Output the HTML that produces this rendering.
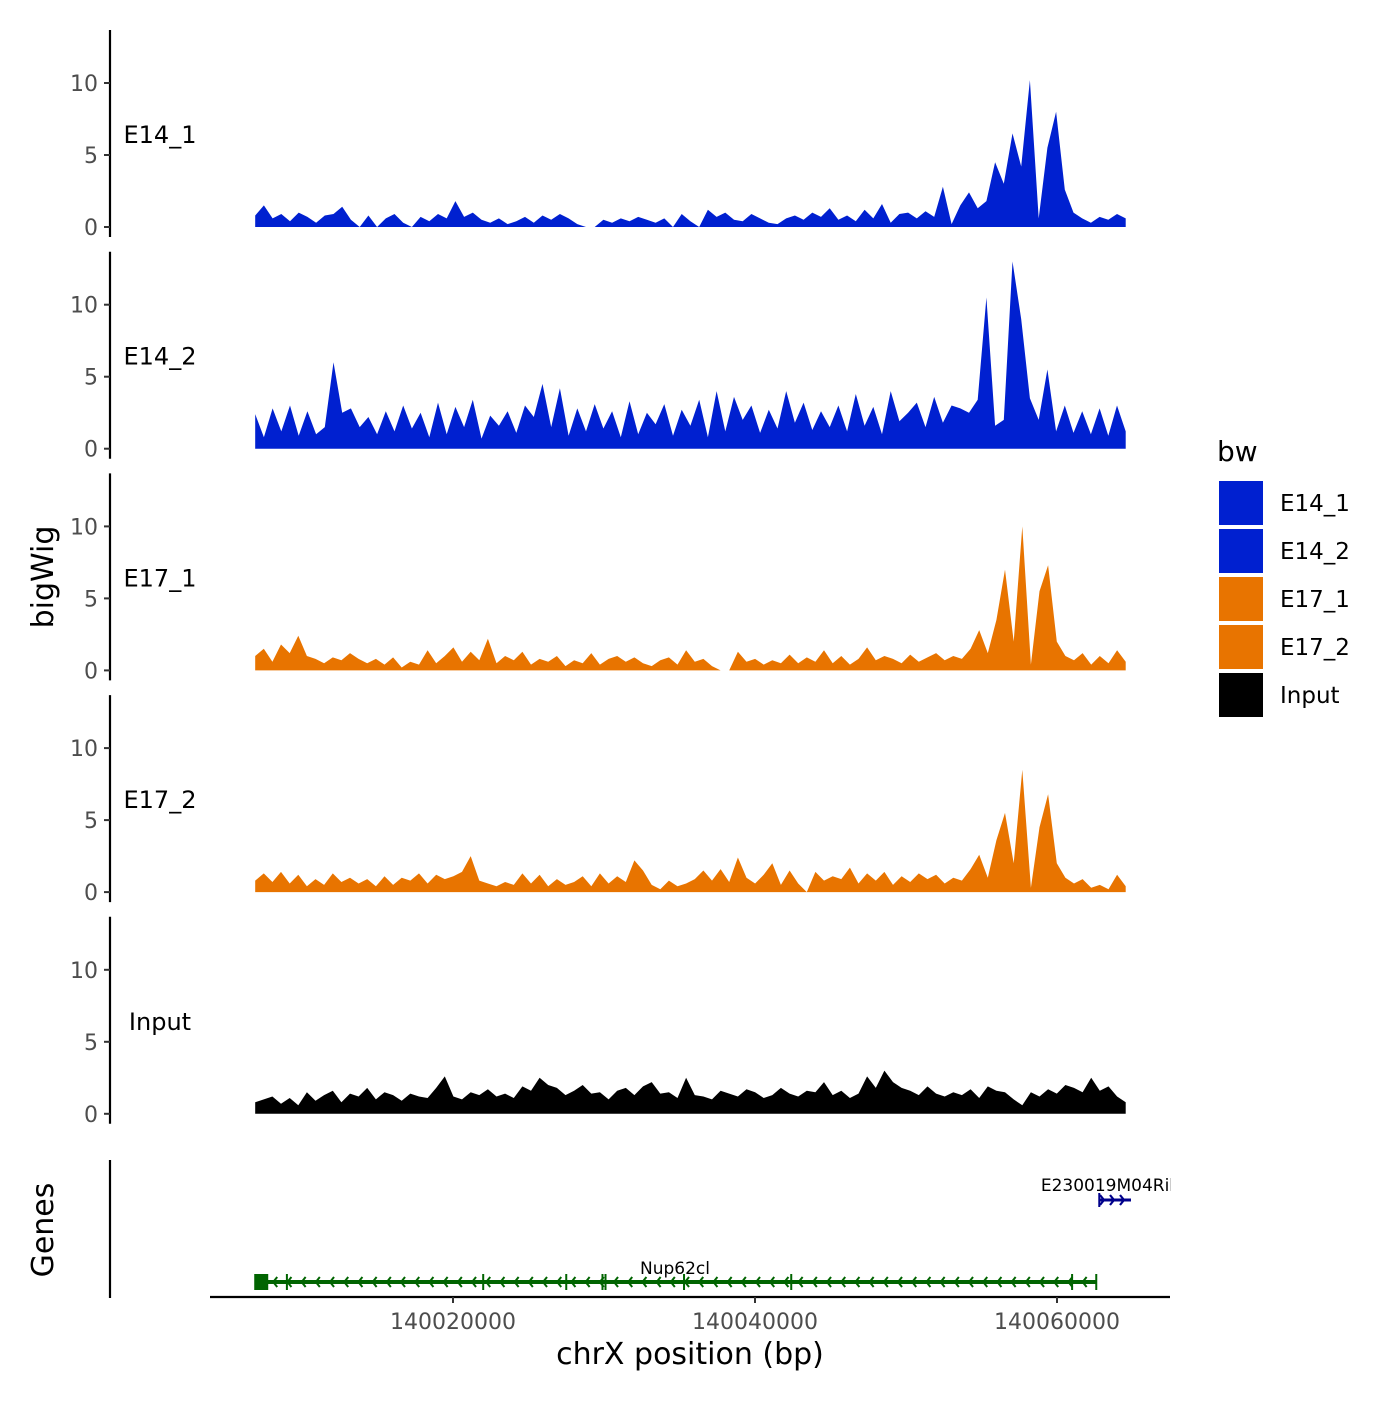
<!DOCTYPE html>
<html><head><meta charset="utf-8"><style>
body{margin:0;background:#fff}
text{font-family:"DejaVu Sans","Liberation Sans",sans-serif}
</style></head><body>
<svg id="chart" width="1400" height="1400" viewBox="0 0 1400 1400" xmlns="http://www.w3.org/2000/svg">
<g id="tracks"></g>
<g id="genes"></g>
<g id="xaxis"></g>
<text x="53" y="577" font-size="30" text-anchor="middle" transform="rotate(-90 53 577)">bigWig</text>
<text x="53" y="1230" font-size="30" text-anchor="middle" transform="rotate(-90 53 1230)">Genes</text>
<text x="690" y="1364" font-size="30" text-anchor="middle">chrX position (bp)</text>
<g id="legend"></g>
</svg>
<script>
const trackNames=["E14_1","E14_2","E17_1","E17_2","Input"];
const trackColors=["#0020d0","#0020d0","#e87400","#e87400","#000000"];
const yTicks=[0,5,10];
const xTicks=[140020000,140040000,140060000];
const xTickLabels=["140020000","140040000","140060000"];
const dataStart=140006900, dataEnd=140064550;
const e14_1=[0.8,1.5,0.6,0.9,0.4,1.0,0.7,0.3,0.8,0.9,1.4,0.5,0,0.8,0,0.6,0.9,0.3,0,0.7,0.4,0.9,0.6,1.8,0.7,1.0,0.5,0.3,0.6,0.2,0.4,0.7,0.3,0.8,0.5,0.9,0.6,0.2,0,0,0.5,0.3,0.6,0.4,0.7,0.5,0.3,0.6,0,0.9,0.4,0,1.2,0.7,1.0,0.5,0.4,0.9,0.6,0.3,0.2,0.6,0.8,0.5,1.0,0.7,1.3,0.5,0.8,0.4,1.2,0.6,1.6,0.3,0.9,1.0,0.6,1.1,0.7,2.8,0.2,1.5,2.4,1.3,1.8,4.5,3.0,6.5,4.2,10.2,0.6,5.5,8.0,2.6,1.0,0.6,0.3,0.7,0.5,0.9,0.6];
const e14_2=[2.4,0.8,2.8,1.2,3.0,0.9,2.6,1.0,1.5,6.0,2.5,2.8,1.5,2.2,1.0,2.6,1.2,3.0,1.4,2.5,0.8,3.2,1.0,2.9,1.5,3.4,0.7,2.3,1.6,2.6,1.1,3.0,2.2,4.5,1.5,4.2,0.9,2.8,1.2,3.1,1.4,2.6,0.8,3.3,1.0,2.5,1.7,3.1,0.9,2.7,1.6,3.4,0.8,4.0,1.2,3.6,2.0,3.0,1.1,2.7,1.4,4.0,1.8,3.2,1.3,2.6,1.5,3.0,1.2,3.8,1.6,2.9,1.0,4.0,1.9,2.5,3.2,1.5,3.6,1.8,3.0,2.8,2.5,3.4,10.5,1.6,2.0,13.0,9.0,3.5,2.0,5.5,1.2,3.0,1.1,2.6,1.0,2.8,0.9,3.0,1.2];
const e17_1=[1.0,1.5,0.6,1.8,1.2,2.4,1.0,0.8,0.5,0.9,0.7,1.2,0.8,0.5,0.8,0.4,0.9,0.2,0.6,0.4,1.4,0.5,1.0,1.6,0.6,1.3,0.7,2.2,0.5,1.0,0.7,1.3,0.4,0.8,0.6,1.0,0.3,0.7,0.5,1.2,0.4,0.8,1.0,0.6,0.9,0.5,0.3,0.7,0.9,0.4,1.4,0.6,0.8,0.3,0,0,1.3,0.6,0.8,0.4,0.7,0.5,1.1,0.5,0.9,0.6,1.4,0.5,1.0,0.4,0.8,1.6,0.7,1.0,0.8,0.5,1.1,0.6,0.9,1.2,0.7,1.0,0.8,1.5,2.8,1.2,3.5,7.0,2.0,10.0,0.4,5.5,7.3,2.0,1.0,0.7,1.2,0.4,1.0,0.5,1.4,0.6];
const e17_2=[0.8,1.3,0.7,1.4,0.6,1.2,0.4,0.9,0.5,1.3,0.7,1.0,0.6,0.9,0.4,1.1,0.5,1.0,0.8,1.3,0.6,1.2,0.9,1.1,1.4,2.5,0.8,0.6,0.4,0.7,0.5,1.3,0.6,1.2,0.4,0.9,0.5,0.7,1.1,0.4,1.3,0.6,1.1,0.7,2.2,1.5,0.5,0.2,0.8,0.4,0.6,0.9,1.5,0.8,1.6,0.7,2.4,1.0,0.6,1.2,2.0,0.5,1.5,0.6,0,1.4,0.8,1.1,0.9,1.7,0.6,1.3,0.8,1.4,0.5,1.1,0.7,1.3,0.9,1.2,0.6,1.0,0.8,1.6,2.6,1.0,3.6,5.5,2.0,8.5,0.3,4.5,6.8,2.0,1.0,0.6,0.9,0.3,0.5,0.2,1.2,0.4];
const input=[0.8,1.0,1.2,0.7,1.1,0.6,1.5,0.9,1.3,1.6,0.8,1.4,1.2,1.8,1.0,1.5,1.3,0.9,1.4,1.2,1.1,1.8,2.6,1.2,1.0,1.5,1.3,1.7,1.2,1.4,1.1,1.9,1.6,2.5,2.0,1.8,1.3,1.6,2.0,1.4,1.5,1.0,1.6,1.8,1.3,1.9,2.2,1.4,1.5,1.1,2.5,1.3,1.2,1.0,1.6,1.4,1.2,1.7,1.5,1.1,1.3,1.8,1.4,1.2,1.6,1.5,2.2,1.3,1.6,1.1,1.4,2.6,1.8,3.0,2.2,1.8,1.6,1.3,1.9,1.4,1.2,1.5,1.3,1.7,1.1,1.9,1.6,1.5,1.0,0.6,1.5,1.2,1.7,1.4,2.0,1.8,1.5,2.5,1.6,1.9,1.2,0.8];
const trackData=[e14_1,e14_2,e17_1,e17_2,input];
const geneName1="Nup62cl", gene1Start=140007300, gene1End=140062600;
const gene1Exons=[140007300,140009000,140022000,140027500,140029900,140030100,140035300,140042400,140061000,140062600];
const geneName2="E230019M04Rik", gene2Start=140062800, gene2End=140064900;

const NS="http://www.w3.org/2000/svg";
function mk(tag,attrs,parent){const e=document.createElementNS(NS,tag);for(const k in attrs)e.setAttribute(k,attrs[k]);parent.appendChild(e);return e;}
const xScale=v=>453+(v-140020000)*(302/20000);
const panelZero=i=>227+i*221.7;
const yScale=(i,v)=>panelZero(i)-v*14.4;

const tracks=document.getElementById('tracks');
trackNames.forEach((name,i)=>{
  const g=mk('g',{},tracks);
  
  
  const top=30+i*221.7;
  const ax=mk('line',{x1:110,x2:110,y1:top,y2:top+207,stroke:'#000','stroke-width':2.2},g);
  
  
  yTicks.forEach(t=>{
    const y=yScale(i,t);
    const tk=mk('line',{x1:104,x2:110,y1:y,y2:y,stroke:'#333','stroke-width':2},g);
    
    
    const tl=mk('text',{x:98,y:y+8,'font-size':22,fill:'#4d4d4d','text-anchor':'end'},g);
    tl.textContent=t;
    
    
  });
  const lab=mk('text',{x:160,y:top+113,'font-size':24,'text-anchor':'middle'},g);
  lab.textContent=name;
  
  
  const vals=trackData[i];
  const n=vals.length, step=(dataEnd-dataStart)/(n-1);
  const y0=yScale(i,0);
  let d='M'+xScale(dataStart)+','+y0;
  vals.forEach((v,k)=>{d+=' L'+xScale(dataStart+k*step).toFixed(1)+','+yScale(i,v).toFixed(1);});
  d+=' L'+xScale(dataEnd)+','+y0+' Z';
  const p=mk('path',{d:d,fill:trackColors[i]},g);
  
  
});

const genes=document.getElementById('genes');
const gax=mk('line',{x1:110,x2:110,y1:1160,y2:1298,stroke:'#000','stroke-width':2.2},genes);


const green='#006400';
const gy=1282;
const gl=mk('line',{x1:xScale(gene1Start),x2:xScale(gene1End),y1:gy,y2:gy,stroke:green,'stroke-width':4},genes);


for(let x=xScale(gene1Start)+12;x<xScale(gene1End)-6;x+=14.2){
  const a=mk('path',{d:`M${x+4},${gy-5} L${x},${gy} L${x+4},${gy+5}`,stroke:green,'stroke-width':2,fill:'none'},genes);
  
  
}
gene1Exons.forEach((e,k)=>{
  const x=xScale(e);
  const r=k===0?mk('rect',{x:x-7,y:gy-8,width:14,height:16,fill:green},genes):mk('rect',{x:x-1,y:gy-8,width:2,height:16,fill:green},genes);
  
  
});
const g1t=mk('text',{x:675,y:1274,'font-size':17,'text-anchor':'middle'},genes);
g1t.textContent=geneName1;


const blue='#00008b', by=1200;
const g2=mk('line',{x1:xScale(gene2Start),x2:xScale(gene2End),y1:by,y2:by,stroke:blue,'stroke-width':3},genes);


[1104,1114,1124].forEach(x=>{
  const a=mk('path',{d:`M${x-4},${by-5} L${x},${by} L${x-4},${by+5}`,stroke:blue,'stroke-width':2.2,fill:'none'},genes);
  
  
});
const ex2=mk('rect',{x:xScale(gene2Start)-1,y:by-7,width:2,height:14,fill:blue},genes);


const clip=mk('clipPath',{id:'gclip'},genes);
mk('rect',{x:0,y:0,width:1171,height:1400},clip);
const g2t=mk('text',{x:1110,y:1191,'font-size':17,'text-anchor':'middle','clip-path':'url(#gclip)'},genes);
g2t.textContent=geneName2;



const xa=document.getElementById('xaxis');
const xl=mk('line',{x1:210,x2:1170,y1:1297,y2:1297,stroke:'#000','stroke-width':2.2},xa);


xTicks.forEach((t,k)=>{
  const x=xScale(t);
  const tk=mk('line',{x1:x,x2:x,y1:1297,y2:1303,stroke:'#333','stroke-width':2},xa);
  
  
  const tl=mk('text',{x:x,y:1329,'font-size':22,fill:'#4d4d4d','text-anchor':'middle'},xa);
  tl.textContent=xTickLabels[k];
  
  
});

const lg=document.getElementById('legend');
const lt=mk('text',{x:1217,y:461,'font-size':28},lg);
lt.textContent='bw';


trackNames.forEach((n,k)=>{
  const y=481+k*48;
  const r=mk('rect',{x:1219,y:y,width:44,height:44,fill:trackColors[k]},lg);
  
  
  const t=mk('text',{x:1280,y:y+30,'font-size':23},lg);
  t.textContent=n;
  
  
});
</script>
</body></html>
